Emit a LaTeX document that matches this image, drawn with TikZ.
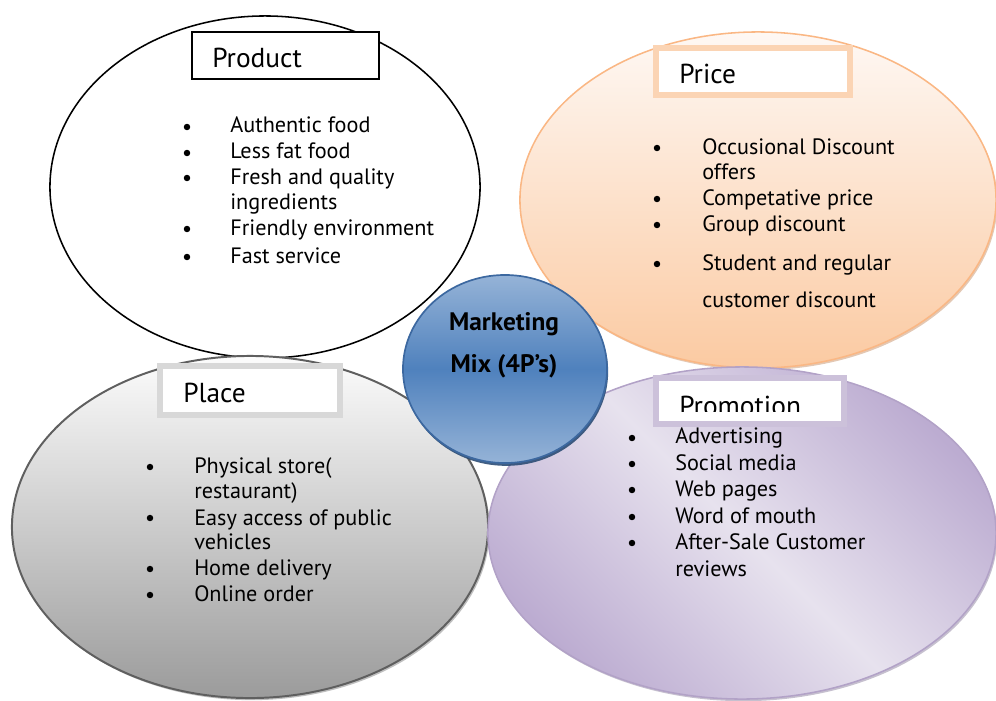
\documentclass[tikz,border=0pt]{standalone}
\usepackage{fontspec}
\setmainfont{PT Sans}
\usetikzlibrary{shapes.geometric,shadows}

\definecolor{prline}{RGB}{250,183,132}
\definecolor{prtop}{RGB}{254,248,244}
\definecolor{prbot}{RGB}{251,202,162}
\definecolor{prbox}{RGB}{251,212,180}
\definecolor{plline}{RGB}{95,95,95}
\definecolor{pltop}{RGB}{252,252,252}
\definecolor{plbot}{RGB}{155,155,155}
\definecolor{plbox}{RGB}{216,216,216}
\definecolor{poline}{RGB}{178,162,199}
\definecolor{polight}{RGB}{231,226,238}
\definecolor{podark}{RGB}{188,172,209}
\definecolor{pobox}{RGB}{204,193,218}
\definecolor{mxline}{RGB}{60,104,160}
\definecolor{mxlight}{RGB}{149,179,215}
\definecolor{mxmid}{RGB}{79,129,189}
\definecolor{mxshade}{RGB}{44,77,117}

\tikzset{
	ring/.style={ellipse, inner sep=0pt, line width=1.1pt},
	tbox/.style={rectangle, fill=white, inner sep=0pt},
	head/.style={anchor=base west, inner sep=0pt, font=\fontsize{19.5}{22}\selectfont},
	item/.style={anchor=base west, inner sep=0pt, font=\fontsize{15.8}{18}\selectfont},
	dot/.style={circle, fill=black, inner sep=0pt, minimum size=4.6pt},
}

\begin{document}
\begin{tikzpicture}[x=0.025cm, y=-0.025cm]
		\useasboundingbox (0,0) rectangle (996,700);
		
		%Product
		\node[ring, draw=black, fill=white, minimum width=10.75cm, minimum height=8.55cm] (product) at (265,187) {};
		\node[tbox, draw=black, line width=1.1pt, minimum width=4.675cm, minimum height=1.175cm] (prodbox) at (285.5,55.5) {};
		\node[head] (prodhead) at (212,67) {Product};
		\foreach \y/\t [count=\i] in {132/Authentic food, 158/Less fat food, 184/Fresh and quality, 209/ingredients, 235/Friendly environment, 263/Fast service}
			\node[item] (prod\i) at (230,\y) {\t};
		\foreach \y [count=\i] in {127,153,178,229,257}
			\node[dot] (prodb\i) at (187,\y) {};
		
		%Price
		\node[ring, draw=prline, top color=prtop, bottom color=prbot, minimum width=11.9cm, minimum height=8.4cm,
			drop shadow={shadow xshift=1pt, shadow yshift=-1.5pt, fill=prline!80!black, opacity=0.5}] (price) at (758,200) {};
		\node[tbox, draw=prbox, line width=4.2pt, minimum width=4.85cm, minimum height=1.175cm] (pricebox) at (753,71.5) {};
		\node[head] (pricehead) at (679,83) {Price};
		\foreach \y/\t [count=\i] in {154/Occusional Discount, 179/offers, 205/Competative price, 231/Group discount, 270/Student and regular, 307/customer discount}
			\node[item] (price\i) at (702,\y) {\t};
		\foreach \y [count=\i] in {148,199,225,264}
			\node[dot] (priceb\i) at (657,\y) {};
		
		%Place
		\node[ring, draw=plline, line width=1.4pt, top color=pltop, bottom color=plbot, minimum width=11.9cm, minimum height=8.55cm,
			drop shadow={shadow xshift=1.2pt, shadow yshift=-1.5pt, fill=gray, opacity=0.5}] (place) at (250,527) {};
		\node[tbox, draw=plbox, line width=4.2pt, minimum width=4.5cm, minimum height=1.225cm] (placebox) at (250,390.5) {};
		\node[head] (placehead) at (183,402) {Place};
		\foreach \y/\t [count=\i] in {473/Physical store(, 498/restaurant), 525/Easy access of public, 549/vehicles, 575/Home delivery, 601/Online order}
			\node[item] (place\i) at (194,\y) {\t};
		\foreach \y [count=\i] in {467,518,569,595}
			\node[dot] (placeb\i) at (150,\y) {};
		
		%Promotion
		\node[ring, draw=poline, left color=podark, right color=podark, middle color=polight, shading angle=135, minimum width=12.7cm, minimum height=8.3cm,
			drop shadow={shadow xshift=1pt, shadow yshift=-1.5pt, fill=poline!80!black, opacity=0.5}] (promo) at (742,533) {};
		\node[tbox, draw=pobox, line width=4.2pt, minimum width=4.7cm, minimum height=1.15cm] (promobox) at (750,401) {};
		\begin{scope}
			\clip (660,380) rectangle (840,411);
			\node[head] (promohead) at (679,415) {Promotion};
		\end{scope}
		\foreach \y/\t [count=\i] in {443/Advertising, 470/Social media, 496/Web pages, 523/Word of mouth, 549/After-Sale Customer, 576/reviews}
			\node[item] (promo\i) at (675,\y) {\t};
		\foreach \y [count=\i] in {438,464,490,517,543}
			\node[dot] (promob\i) at (632,\y) {};
		
		%Marketing Mix
		\node[ring, draw=mxline, line width=1.2pt, top color=mxlight, bottom color=mxlight, middle color=mxmid, minimum width=5.1cm, minimum height=4.7cm,
			drop shadow={shadow xshift=0.8pt, shadow yshift=-2pt, fill=mxshade, opacity=0.9}] (mix) at (505,369) {};
		\node[align=center, inner sep=0pt, font=\fontsize{18}{29.8}\selectfont\bfseries] (mixtxt) at (504,345) {Marketing\\Mix (4P’s)};
	\end{tikzpicture}
\end{document}
